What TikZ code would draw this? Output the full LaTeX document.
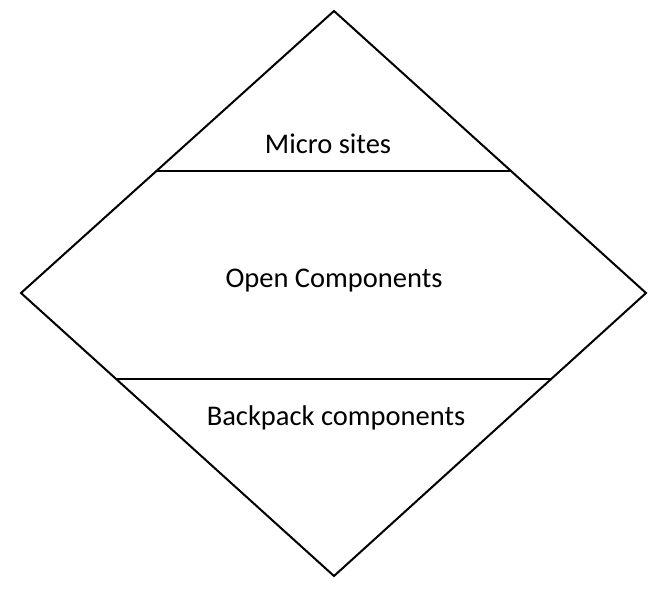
\documentclass[tikz,border=0pt]{standalone}
\usepackage{fontspec}
\setmainfont{Carlito}
\begin{document}
\begin{tikzpicture}[x=1pt,y=-1pt,
  edge/.style={draw=black,line width=2pt,line join=miter},
  lbl/.style={font=\fontsize{28.5}{34}\selectfont,inner sep=0pt,anchor=center}]
\useasboundingbox[fill=white] (0,0) rectangle (668,592);
\coordinate (T) at (334,11);
\coordinate (L) at (21,293);
\coordinate (R) at (646,293);
\coordinate (B) at (334,576);
\coordinate (a1) at (156.5,171);
\coordinate (a2) at (511.5,171);
\coordinate (b1) at (116.5,379);
\coordinate (b2) at (551,379);
\draw[edge] (T) -- (R) -- (B) -- (L) -- cycle;
\draw[edge] (a1) -- (a2);
\draw[edge] (b1) -- (b2);
\node[lbl] (micro) at (328,143.5) {Micro sites};
\node[lbl] (open) at (334,281) {Open Components};
\node[lbl] (back) at (336,418) {Backpack components};
\end{tikzpicture}
\end{document}
